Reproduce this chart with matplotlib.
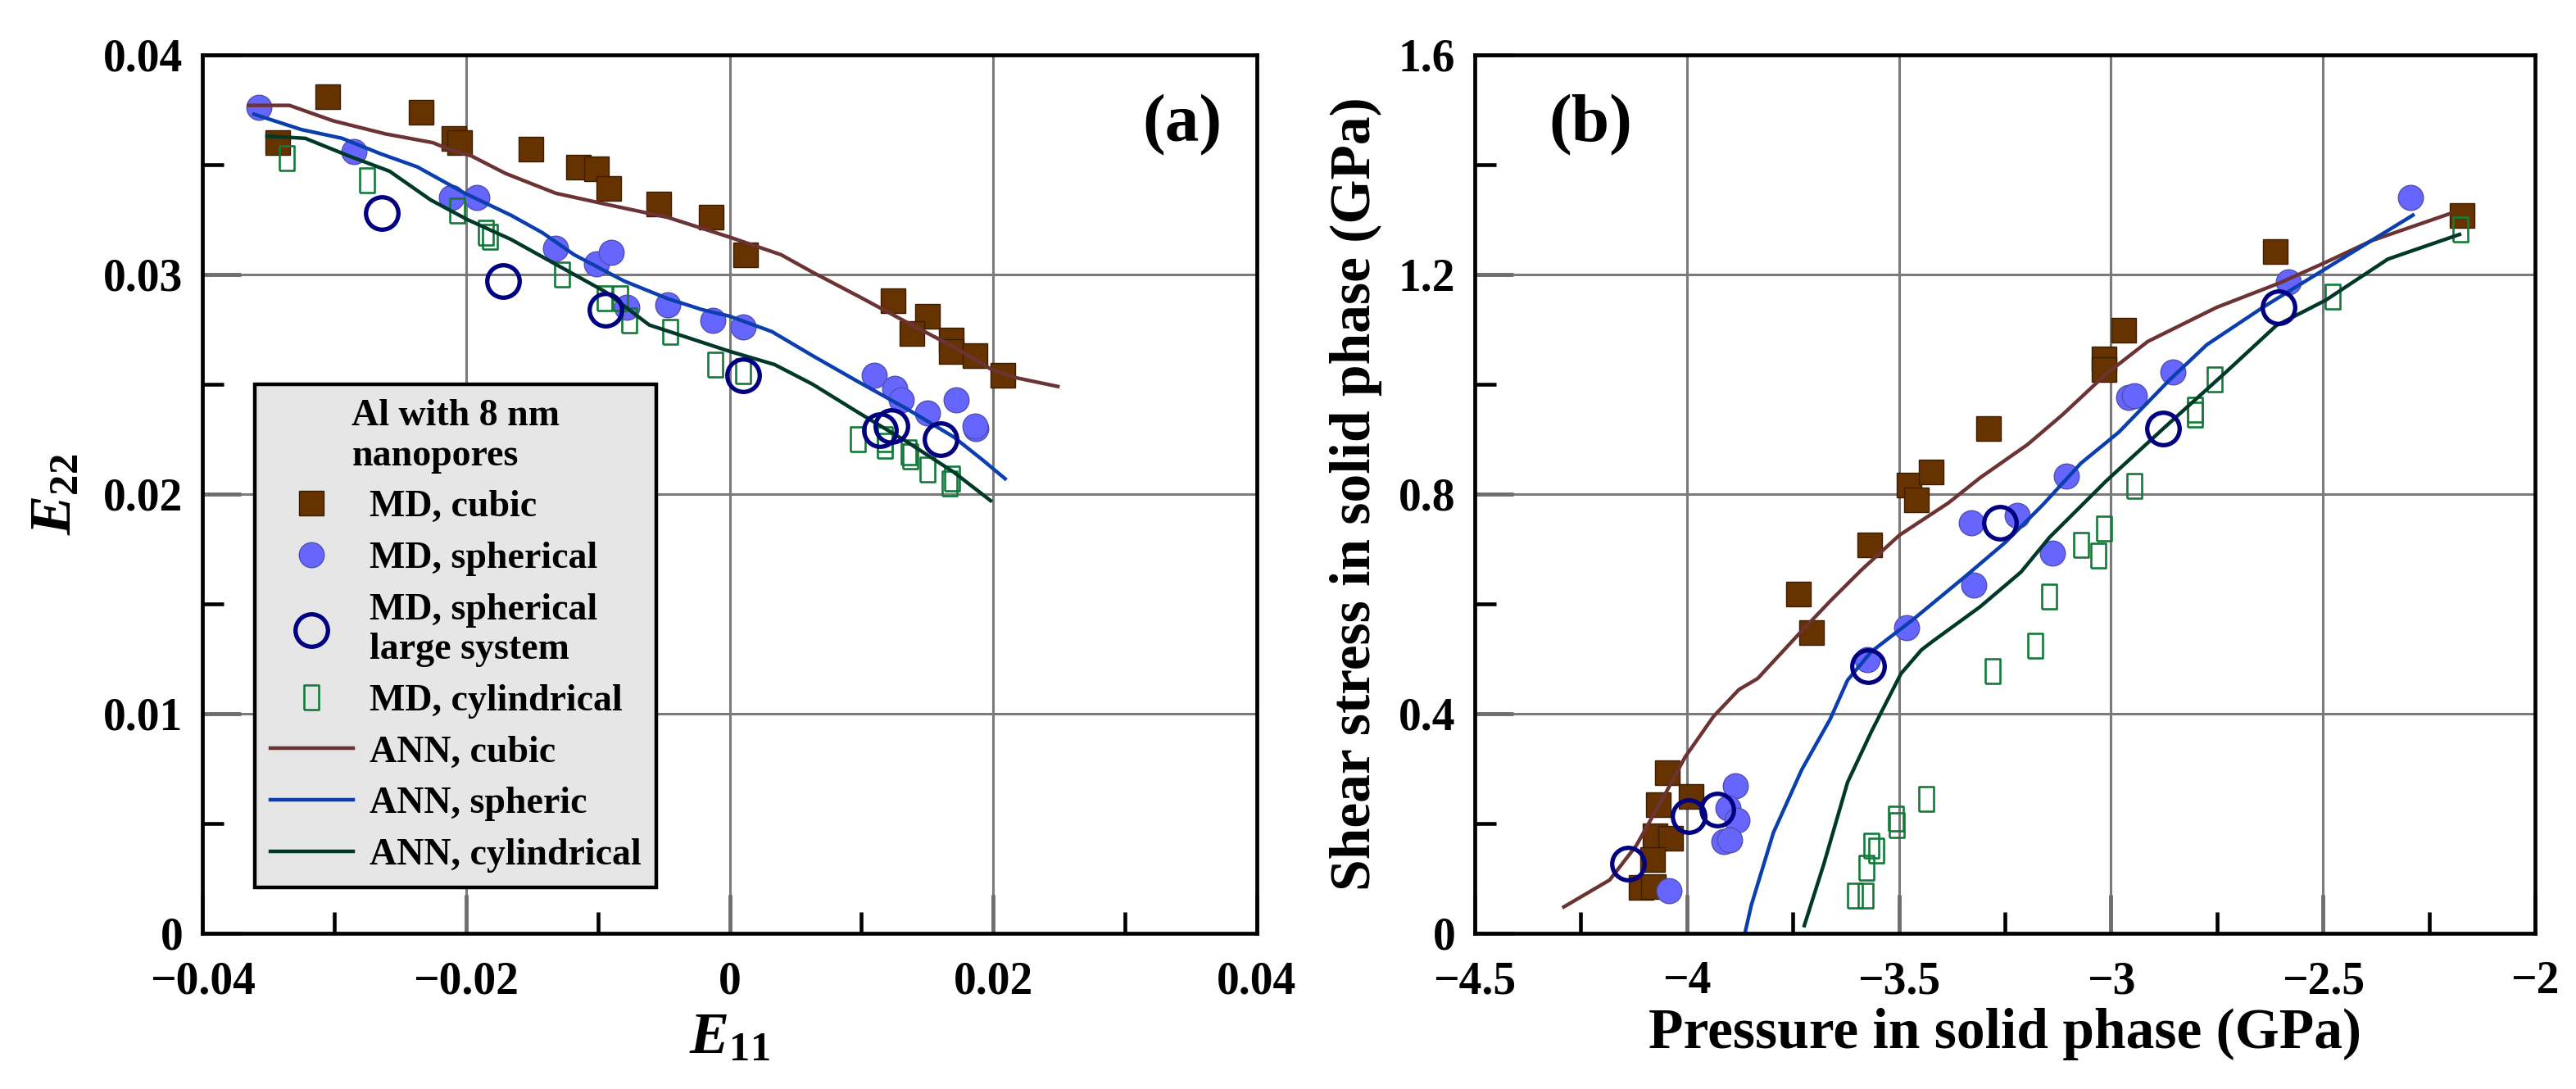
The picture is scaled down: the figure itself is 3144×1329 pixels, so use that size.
import matplotlib
matplotlib.use("Agg")
import matplotlib.pyplot as plt
from matplotlib.ticker import MultipleLocator
from matplotlib.lines import Line2D

plt.rcParams['font.family'] = ['Liberation Serif', 'DejaVu Serif']
plt.rcParams['font.weight'] = 'bold'
plt.rcParams['mathtext.fontset'] = 'custom'
plt.rcParams['mathtext.rm'] = 'Liberation Serif:bold'
plt.rcParams['mathtext.it'] = 'Liberation Serif:bold:italic'

# ---- panel (a): strain E11 vs E22 ----
cubic_e11 = [-0.0343, -0.0305, -0.0234, -0.0209, -0.0205, -0.0151, -0.0115, -0.0101, -0.0092, -0.0054,
             -0.0014, 0.0012, 0.0124, 0.0150, 0.0138, 0.0168, 0.0168, 0.0186, 0.0207]
cubic_e22 = [0.0360, 0.0381, 0.0374, 0.0362, 0.0360, 0.0357, 0.0349, 0.0348, 0.0339, 0.0332,
             0.0326, 0.0309, 0.0288, 0.0281, 0.0273, 0.0270, 0.0265, 0.0263, 0.0254]

sph_e11 = [-0.0357, -0.0285, -0.0211, -0.0192, -0.0132, -0.0101, -0.0090, -0.0078, -0.0047, -0.0013,
           0.0010, 0.0110, 0.0125, 0.0130, 0.0150, 0.0172, 0.0187, 0.0186]
sph_e22 = [0.0376, 0.0356, 0.0335, 0.0335, 0.0312, 0.0305, 0.0310, 0.0285, 0.0286, 0.0279,
           0.0276, 0.0254, 0.0248, 0.0243, 0.0237, 0.0243, 0.0230, 0.0231]

large_e11 = [-0.0264, -0.0172, -0.0094, 0.0010, 0.0114, 0.0123, 0.0160]
large_e22 = [0.0328, 0.0297, 0.0284, 0.0254, 0.0229, 0.0231, 0.0225]

cyl_e11 = [-0.0336, -0.0275, -0.0207, -0.0185, -0.0182, -0.0127, -0.0095, -0.0083, -0.0076, -0.0045,
           -0.0011, 0.0010, 0.0097, 0.0118, 0.0118, 0.0136, 0.0137, 0.0150, 0.0167, 0.0169]
cyl_e22 = [0.0353, 0.0343, 0.0329, 0.0319, 0.0317, 0.0300, 0.0289, 0.0289, 0.0279, 0.0274,
           0.0259, 0.0256, 0.0225, 0.0222, 0.0225, 0.0219, 0.0217, 0.0211, 0.0205, 0.0207]

ann_cubic_e11 = [-0.0365, -0.0334, -0.0301, -0.0261, -0.0225, -0.0213, -0.0196, -0.0170, -0.0132, -0.0094,
                 -0.0047, 0.0, 0.0039, 0.0063, 0.0098, 0.0132, 0.0170, 0.0198, 0.0217, 0.0249]
ann_cubic_e22 = [0.0377, 0.0377, 0.0370, 0.0364, 0.0360, 0.0357, 0.0354, 0.0346, 0.0337, 0.0332,
                 0.0326, 0.0317, 0.0309, 0.0301, 0.0290, 0.0279, 0.0267, 0.0257, 0.0253, 0.0249]

ann_sph_e11 = [-0.0361, -0.0325, -0.0294, -0.0265, -0.0237, -0.0201, -0.0166, -0.0142, -0.0118, -0.0080,
               -0.0047, -0.0021, 0.0, 0.0032, 0.0063, 0.0098, 0.0134, 0.0170, 0.0191, 0.0209]
ann_sph_e22 = [0.0373, 0.0366, 0.0362, 0.0355, 0.0349, 0.0337, 0.0327, 0.0319, 0.0309, 0.0297,
               0.0289, 0.0284, 0.0281, 0.0274, 0.0263, 0.0251, 0.0239, 0.0226, 0.0216, 0.0207]

ann_cyl_e11 = [-0.0351, -0.0322, -0.0289, -0.0258, -0.0227, -0.0199, -0.0166, -0.0130, -0.0094, -0.0061,
               0.0, 0.0034, 0.0063, 0.0098, 0.0134, 0.0170, 0.0198]
ann_cyl_e22 = [0.0363, 0.0362, 0.0354, 0.0347, 0.0334, 0.0325, 0.0316, 0.0304, 0.0292, 0.0277,
               0.0265, 0.0259, 0.0250, 0.0237, 0.0224, 0.0210, 0.0197]

# ---- panel (b): pressure vs shear stress ----
cubic_p = [-4.045, -3.989, -4.067, -4.074, -4.039, -4.080, -4.108, -4.078, -3.736, -3.705,
           -3.569, -3.476, -3.424, -3.458, -3.288, -3.016, -3.016, -2.970, -2.612, -2.172]
cubic_tau = [0.293, 0.249, 0.235, 0.177, 0.173, 0.134, 0.083, 0.085, 0.618, 0.547,
             0.708, 0.817, 0.840, 0.789, 0.920, 1.046, 1.027, 1.098, 1.242, 1.308]

sph_p = [-4.042, -3.885, -3.903, -3.881, -3.913, -3.900, -3.574, -3.482, -3.323, -3.329,
         -3.221, -3.137, -3.106, -2.959, -2.944, -2.854, -2.581, -2.294]
sph_tau = [0.077, 0.269, 0.229, 0.206, 0.167, 0.170, 0.499, 0.557, 0.635, 0.748,
           0.761, 0.693, 0.833, 0.976, 0.979, 1.022, 1.187, 1.341]

large_p = [-4.139, -3.996, -3.929, -3.573, -3.262, -2.877, -2.604]
large_tau = [0.127, 0.213, 0.226, 0.486, 0.747, 0.920, 1.140]

cyl_p = [-3.603, -3.579, -3.577, -3.565, -3.554, -3.506, -3.505, -3.435, -3.279, -3.178,
         -3.145, -3.071, -3.030, -3.016, -2.944, -2.801, -2.801, -2.756, -2.478, -2.176]
cyl_tau = [0.068, 0.069, 0.120, 0.160, 0.150, 0.209, 0.197, 0.244, 0.477, 0.524,
           0.614, 0.708, 0.688, 0.738, 0.815, 0.953, 0.944, 1.009, 1.159, 1.282]

ann_cubic_p = [-4.290, -4.182, -4.119, -4.048, -4.004, -3.937, -3.877, -3.833, -3.736, -3.662,
               -3.588, -3.499, -3.383, -3.308, -3.197, -3.115, -3.011, -2.913, -2.751, -2.604,
               -2.494, -2.384, -2.200]
ann_cubic_tau = [0.048, 0.097, 0.160, 0.258, 0.321, 0.395, 0.444, 0.464, 0.545, 0.605,
                 0.662, 0.725, 0.784, 0.830, 0.890, 0.944, 1.019, 1.078, 1.140, 1.184,
                 1.222, 1.262, 1.311]

ann_sph_p = [-3.863, -3.848, -3.796, -3.729, -3.662, -3.621, -3.565, -3.469, -3.345, -3.249,
             -3.160, -3.071, -2.981, -2.863, -2.774, -2.640, -2.457, -2.288]
ann_sph_tau = [0.0, 0.051, 0.183, 0.298, 0.390, 0.461, 0.513, 0.570, 0.649, 0.712,
               0.781, 0.856, 0.913, 1.007, 1.072, 1.141, 1.228, 1.308]

ann_cyl_p = [-3.723, -3.677, -3.621, -3.565, -3.495, -3.447, -3.420, -3.308, -3.212, -3.145,
             -3.011, -2.877, -2.729, -2.610, -2.494, -2.347, -2.178]
ann_cyl_tau = [0.014, 0.126, 0.275, 0.367, 0.473, 0.516, 0.532, 0.595, 0.658, 0.721,
               0.824, 0.919, 1.022, 1.107, 1.153, 1.228, 1.273]

# ---- ticks ----
a_xticks = [-0.04, -0.02, 0, 0.02, 0.04]
a_xlabels = ['\u22120.04', '\u22120.02', '0', '0.02', '0.04']
a_yticks = [0, 0.01, 0.02, 0.03, 0.04]
a_ylabels = ['0', '0.01', '0.02', '0.03', '0.04']
b_xticks = [-4.5, -4, -3.5, -3, -2.5, -2]
b_xlabels = ['\u22124.5', '\u22124', '\u22123.5', '\u22123', '\u22122.5', '\u22122']
b_yticks = [0, 0.4, 0.8, 1.2, 1.6]
b_ylabels = ['0', '0.4', '0.8', '1.2', '1.6']

legend_title = 'Al with 8 nm\nnanopores'
legend_labels = ['MD, cubic', 'MD, spherical', 'MD, spherical\nlarge system', 'MD, cylindrical',
                 'ANN, cubic', 'ANN, spheric', 'ANN, cylindrical']

# styles
c_cubic = '#663300'
c_sph = '#6666ff'
c_large = '#000080'
c_cyl = '#137a3a'
c_ann_cubic = '#6b3333'
c_ann_sph = '#0b3fad'
c_ann_cyl = '#00382a'
rect = [(-0.3, -0.5), (0.3, -0.5), (0.3, 0.5), (-0.3, 0.5), (-0.3, -0.5)]

sq_kw = dict(ls='none', marker='s', ms=22, mfc=c_cubic, mec='#3a1d00', mew=1.0)
sp_kw = dict(ls='none', marker='o', ms=22, mfc=c_sph, mec='#5050b0', mew=1.0)
lg_kw = dict(ls='none', marker='o', ms=28.5, mfc='none', mec=c_large, mew=3.8)
cy_kw = dict(ls='none', marker=rect, ms=21, mfc='none', mec=c_cyl, mew=1.9)
lw = 3.2

fig = plt.figure(figsize=(31.44, 13.29), dpi=100)
ax1 = fig.add_axes([0.0786, 0.1430, 0.4093, 0.8066])
ax2 = fig.add_axes([0.5725, 0.1430, 0.4116, 0.8066])


def style_axis(ax, xt, xl, yt, yl, xminor, yminor):
    ax.set_xticks(xt)
    ax.set_xticklabels(xl)
    ax.set_yticks(yt)
    ax.set_yticklabels(yl)
    ax.set_xlim(xt[0], xt[-1])
    ax.set_ylim(yt[0], yt[-1])
    ax.xaxis.set_minor_locator(MultipleLocator(xminor))
    ax.yaxis.set_minor_locator(MultipleLocator(yminor))
    ax.grid(True, which='major', color='#7a7a7a', linewidth=2.2)
    ax.set_axisbelow(True)
    ax.tick_params(which='both', direction='in', top=False, right=False, labelsize=40)
    ax.tick_params(axis='x', which='both', pad=24)
    ax.tick_params(axis='y', which='both', pad=17)
    ax.tick_params(which='major', length=34, width=3.5, color='#6e6e6e')
    ax.tick_params(which='minor', length=19, width=3.3, color='black')
    for s in ax.spines.values():
        s.set_linewidth(3.4)
        s.set_zorder(5)
    for t in ax.get_xticklabels() + ax.get_yticklabels():
        t.set_fontweight('bold')


# panel (a)
ax1.plot(cubic_e11, cubic_e22, **sq_kw, zorder=3)
ax1.plot(sph_e11, sph_e22, **sp_kw, zorder=3)
ax1.plot(cyl_e11, cyl_e22, **cy_kw, zorder=3)
ax1.plot(ann_cubic_e11, ann_cubic_e22, color=c_ann_cubic, lw=lw, zorder=4)
ax1.plot(ann_sph_e11, ann_sph_e22, color=c_ann_sph, lw=lw, zorder=4)
ax1.plot(ann_cyl_e11, ann_cyl_e22, color=c_ann_cyl, lw=lw, zorder=4)
ax1.plot(large_e11, large_e22, **lg_kw, zorder=4.5)
style_axis(ax1, a_xticks, a_xlabels, a_yticks, a_ylabels, 0.01, 0.005)
ax1.set_xlabel(r'$E_{\mathit{11}}$', fontsize=52, labelpad=8)
ax1.set_ylabel(r'$E_{\mathit{22}}$', fontsize=52, labelpad=18)
ax1.text(0.929, 0.92, '(a)', transform=ax1.transAxes, fontsize=60, fontweight='bold',
         ha='center', va='center')

handles = [Line2D([], [], **sq_kw), Line2D([], [], **sp_kw), Line2D([], [], **lg_kw),
           Line2D([], [], **cy_kw), Line2D([], [], color=c_ann_cubic, lw=lw),
           Line2D([], [], color=c_ann_sph, lw=lw), Line2D([], [], color=c_ann_cyl, lw=lw)]
leg = ax1.legend(handles, legend_labels, loc='lower left', bbox_to_anchor=(0.05, 0.052),
                 title=legend_title, title_fontproperties={'weight': 'bold', 'size': 33},
                 prop={'weight': 'bold', 'size': 33}, numpoints=1, handlelength=2.2,
                 handletextpad=0.45, labelspacing=0.45, borderpad=0.4, borderaxespad=0,
                 fancybox=False, framealpha=1, facecolor='#e6e6e6', edgecolor='black')
leg.get_frame().set_linewidth(3.2)
leg.set_zorder(6)

# panel (b)
ax2.plot(cubic_p, cubic_tau, **sq_kw, zorder=3)
ax2.plot(sph_p, sph_tau, **sp_kw, zorder=3)
ax2.plot(cyl_p, cyl_tau, **cy_kw, zorder=3)
ax2.plot(ann_cubic_p, ann_cubic_tau, color=c_ann_cubic, lw=lw, zorder=4)
ax2.plot(ann_sph_p, ann_sph_tau, color=c_ann_sph, lw=lw, zorder=4)
ax2.plot(ann_cyl_p, ann_cyl_tau, color=c_ann_cyl, lw=lw, zorder=4)
ax2.plot(large_p, large_tau, **lg_kw, zorder=4.5)
style_axis(ax2, b_xticks, b_xlabels, b_yticks, b_ylabels, 0.25, 0.2)
ax2.set_xlabel('Pressure in solid phase (GPa)', fontsize=50, fontweight='bold', labelpad=4)
ax2.set_ylabel('Shear stress in solid phase (GPa)', fontsize=50, fontweight='bold', labelpad=14)
ax2.text(0.109, 0.92, '(b)', transform=ax2.transAxes, fontsize=60, fontweight='bold',
         ha='center', va='center')

fig.savefig('out.png', dpi=100)
